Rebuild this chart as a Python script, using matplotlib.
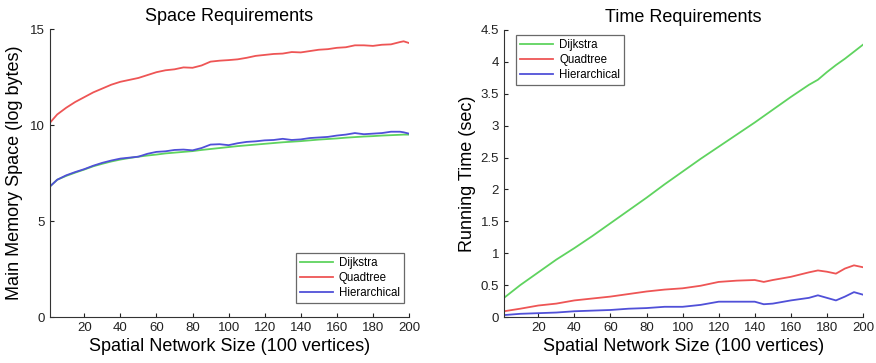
import matplotlib
matplotlib.use("Agg")
import matplotlib.pyplot as plt
from matplotlib.ticker import FuncFormatter

plt.rcParams['font.family'] = ['Liberation Sans', 'DejaVu Sans']

# ---- Space requirements (log bytes) ----
space_x = [1, 5, 10, 15, 20, 25, 30, 35, 40, 45, 50, 55, 60, 65, 70, 75, 80, 85, 90, 95,
           100, 105, 110, 115, 120, 125, 130, 135, 140, 145, 150, 155, 160, 165, 170, 175,
           180, 185, 190, 195, 197, 200]
space_quadtree = [10.12, 10.55, 10.9, 11.2, 11.45, 11.7, 11.9, 12.1, 12.25, 12.35, 12.45, 12.6,
                  12.75, 12.85, 12.9, 13.0, 12.98, 13.1, 13.3, 13.35, 13.38, 13.42, 13.5, 13.6,
                  13.65, 13.7, 13.72, 13.8, 13.78, 13.85, 13.92, 13.95, 14.02, 14.05, 14.15,
                  14.15, 14.12, 14.18, 14.2, 14.32, 14.36, 14.27]
space_dijkstra = [6.8, 7.15, 7.35, 7.52, 7.68, 7.85, 7.98, 8.1, 8.2, 8.28, 8.35, 8.41, 8.46,
                  8.52, 8.56, 8.6, 8.64, 8.7, 8.75, 8.8, 8.85, 8.9, 8.94, 8.98, 9.02, 9.06,
                  9.1, 9.13, 9.16, 9.2, 9.24, 9.27, 9.3, 9.34, 9.37, 9.4, 9.42, 9.45, 9.47,
                  9.49, 9.5, 9.5]
space_hier = [6.8, 7.15, 7.38, 7.55, 7.7, 7.88, 8.03, 8.15, 8.25, 8.3, 8.35, 8.5, 8.6, 8.63,
              8.7, 8.72, 8.68, 8.8, 8.98, 9.0, 8.95, 9.05, 9.12, 9.15, 9.2, 9.22, 9.28, 9.22,
              9.25, 9.32, 9.35, 9.38, 9.45, 9.5, 9.58, 9.52, 9.55, 9.58, 9.65, 9.65, 9.62, 9.55]

# ---- Time requirements (sec) ----
time_x = [1, 10, 20, 30, 40, 50, 60, 70, 80, 90, 100, 110, 120, 130, 140, 145, 150, 160,
          170, 175, 180, 185, 190, 195, 200]
time_dijkstra = [0.3, 0.5, 0.7, 0.9, 1.08, 1.27, 1.47, 1.67, 1.87, 2.08, 2.28, 2.48, 2.67,
                 2.86, 3.05, 3.15, 3.25, 3.45, 3.64, 3.72, 3.84, 3.95, 4.05, 4.16, 4.27]
time_quadtree = [0.09, 0.13, 0.18, 0.21, 0.26, 0.29, 0.32, 0.36, 0.40, 0.43, 0.45, 0.49, 0.55,
                 0.57, 0.58, 0.55, 0.58, 0.63, 0.70, 0.73, 0.71, 0.68, 0.76, 0.81, 0.78]
time_hier = [0.03, 0.05, 0.06, 0.07, 0.09, 0.10, 0.11, 0.13, 0.14, 0.16, 0.16, 0.19, 0.24,
             0.24, 0.24, 0.20, 0.21, 0.26, 0.30, 0.34, 0.30, 0.26, 0.32, 0.39, 0.35]

series_names = ['Dijkstra', 'Quadtree', 'Hierarchical']
colors = ['#5fd35f', '#ee5555', '#5050d8']
xticks = [20, 40, 60, 80, 100, 120, 140, 160, 180, 200]

fig = plt.figure(figsize=(8.76, 3.63), dpi=100)
W, H = 876, 363
ax1 = fig.add_axes([50 / W, 1 - 317 / H, (409 - 50) / W, (317 - 29) / H])
ax2 = fig.add_axes([504 / W, 1 - 317 / H, (863 - 504) / W, (317 - 30) / H])


def style(ax):
    for s in ['top', 'right']:
        ax.spines[s].set_visible(False)
    for s in ['left', 'bottom']:
        ax.spines[s].set_color('#333333')
        ax.spines[s].set_linewidth(0.8)
    ax.tick_params(direction='in', length=3, width=0.8, labelsize=9.5, colors='#222222')
    ax.set_xlim(1, 200)
    ax.set_xticks(xticks)
    ax.set_xlabel('Spatial Network Size (100 vertices)', fontsize=13, labelpad=3)


for name, y, c in zip(series_names, [space_dijkstra, space_quadtree, space_hier], colors):
    ax1.plot(space_x, y, color=c, lw=1.3, label=name)
for name, y, c in zip(series_names, [time_dijkstra, time_quadtree, time_hier], colors):
    ax2.plot(time_x, y, color=c, lw=1.3, label=name)

style(ax1)
style(ax2)
ax1.set_ylim(0, 15)
ax1.set_yticks([0, 5, 10, 15])
ax1.set_ylabel('Main Memory Space (log bytes)', fontsize=13, labelpad=5)
ax1.set_title('Space Requirements', fontsize=13, pad=6)

ax2.set_ylim(0, 4.5)
ax2.set_yticks([0, 0.5, 1, 1.5, 2, 2.5, 3, 3.5, 4, 4.5])
ax2.yaxis.set_major_formatter(FuncFormatter(lambda v, p: ('%g' % v)))
ax2.set_ylabel('Running Time (sec)', fontsize=13, labelpad=3)
ax2.set_title('Time Requirements', fontsize=13, pad=6)

for ax_, loc, anchor in [(ax1, 'lower right', (0.986, 0.049)), (ax2, 'upper left', (0.033, 0.983))]:
    leg = ax_.legend(loc=loc, bbox_to_anchor=anchor, fontsize=8.3, frameon=True, fancybox=False,
                     handlelength=2.9, borderpad=0.35, labelspacing=0.25,
                     handletextpad=0.5, borderaxespad=0.0)
    leg.get_frame().set_edgecolor('#444444')
    leg.get_frame().set_linewidth(0.9)

fig.savefig('out.png', dpi=100)
